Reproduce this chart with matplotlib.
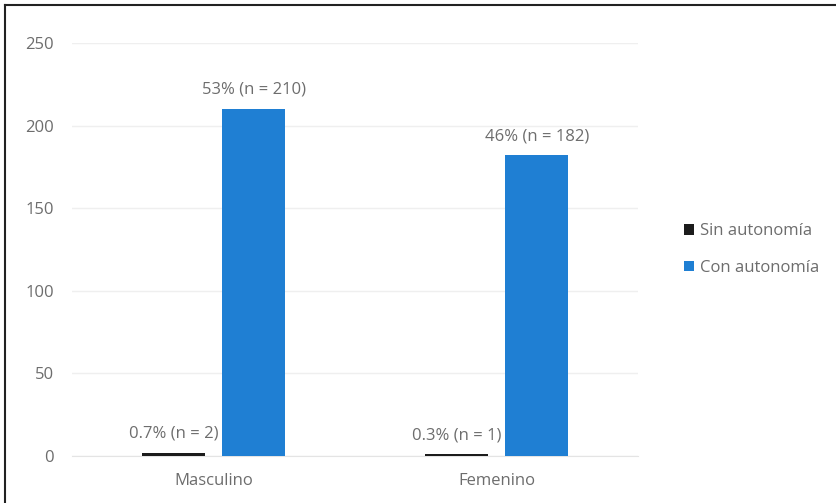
import matplotlib.pyplot as plt
import numpy as np

plt.rcParams['font.family'] = ['Open Sans', 'DejaVu Sans']

# datos
categorias = ['Masculino', 'Femenino']
sin_autonomia = [2, 1]
con_autonomia = [210, 182]
etiquetas_sin = ['0.7% (n = 2)', '0.3% (n = 1)']
etiquetas_con = ['53% (n = 210)', '46% (n = 182)']
series = ['Sin autonomía', 'Con autonomía']

gris = '#6d6d6d'
col_sin = '#1c1c1c'
col_con = '#1f7fd3'
fs = 12

fig = plt.figure(figsize=(8.36, 5.03), dpi=100)
ax = fig.add_axes([0.0861, 0.0934, 0.677, 0.8211])

x = np.arange(len(categorias))
ancho = 0.223
b1 = ax.bar(x - 0.142, sin_autonomia, ancho, color=col_sin, label=series[0], zorder=3)
b2 = ax.bar(x + 0.142, con_autonomia, ancho, color=col_con, label=series[1], zorder=3)

ax.bar_label(b1, labels=etiquetas_sin, padding=8, color=gris, fontsize=fs)
ax.bar_label(b2, labels=etiquetas_con, padding=8, color=gris, fontsize=fs)

ax.set_xlim(-0.5, 1.5)
ax.set_ylim(0, 250)
ax.set_yticks(np.arange(0, 251, 50))
ax.set_xticks(x)
ax.set_xticklabels(categorias)
ax.tick_params(length=0, colors=gris, labelsize=fs)
ax.tick_params(axis='y', pad=13)
ax.tick_params(axis='x', pad=12)
ax.grid(axis='y', color='#efefef', linewidth=1, zorder=0)
for s in ['top', 'right', 'left']:
    ax.spines[s].set_visible(False)
ax.spines['bottom'].set_color('#e4e4e4')

leg = ax.legend(loc='center left', bbox_to_anchor=(1.055, 0.5), frameon=False,
                fontsize=fs, handlelength=0.6, handleheight=0.6,
                handletextpad=0.35, labelspacing=1.25)
for t in leg.get_texts():
    t.set_color(gris)

# marco de la figura (izquierda y arriba)
fig.add_artist(plt.Line2D([0.006, 0.006], [0, 0.99], transform=fig.transFigure,
                          color='#222222', linewidth=1.5))
fig.add_artist(plt.Line2D([0.006, 1.0], [0.99, 0.99], transform=fig.transFigure,
                          color='#222222', linewidth=1.5))

fig.savefig('out.png', dpi=100)
